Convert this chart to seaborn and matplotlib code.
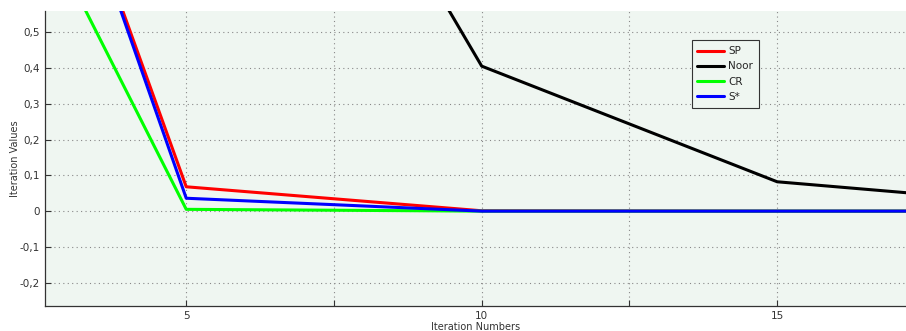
import pandas as pd
import numpy as np
import matplotlib
matplotlib.use("Agg")
import matplotlib.pyplot as plt
import seaborn as sns

# iteration numbers and values per method
iterations = [0, 5, 10, 15, 20]
sp_vals = [2.355, 0.068, 0.001, 0.0, 0.0]
noor_vals = [3.2, 1.81, 0.405, 0.082, 0.012]
cr_vals = [1.635, 0.005, 0.0, 0.0, 0.0]
s_star_vals = [2.40, 0.036, 0.0, 0.0, 0.0]

methods = ["SP", "Noor", "CR", "S*"]
colors = {"SP": "#ff0000", "Noor": "#000000", "CR": "#00ff00", "S*": "#0000ff"}

df = pd.DataFrame({
    "Iteration Numbers": iterations * 4,
    "Iteration Values": sp_vals + noor_vals + cr_vals + s_star_vals,
    "method": [m for m in methods for _ in iterations],
})

sns.set_style("ticks")
plt.rcParams["font.family"] = ["DejaVu Sans"]

fig = plt.figure(figsize=(9.06, 3.31), dpi=100)
ax = fig.add_axes([45 / 906, 25 / 331, 861 / 906, 295 / 331])
ax.set_facecolor("#eff6f1")

sns.lineplot(data=df, x="Iteration Numbers", y="Iteration Values", hue="method",
             hue_order=methods, palette=colors, linewidth=2.2, ax=ax, sort=False)

ax.set_xlim(2.61, 17.18)
ax.set_ylim(-0.265, 0.559)
ax.set_xticks([5, 7.5, 10, 12.5, 15])
ax.set_xticklabels(["5", "", "10", "", "15"])
yt = [-0.2, -0.1, 0, 0.1, 0.2, 0.3, 0.4, 0.5]
ax.set_yticks(yt)
ax.set_yticklabels([("%g" % v).replace(".", ",") for v in yt])
ax.tick_params(direction="in", length=4, labelsize=7.5, colors="#333333", width=0.8)

ax.grid(True, linestyle=(0, (1, 3)), color="#888888", linewidth=0.8)
for s in ["top", "right"]:
    ax.spines[s].set_visible(False)
for s in ["left", "bottom"]:
    ax.spines[s].set_color("#333333")
    ax.spines[s].set_linewidth(0.9)

ax.set_xlabel("Iteration Numbers", fontsize=7, color="#333333", labelpad=1)
ax.set_ylabel("Iteration Values", fontsize=7, color="#333333", labelpad=0)

leg = ax.legend(loc="upper left", bbox_to_anchor=(0.751, 0.9), fontsize=7.5,
                frameon=True, fancybox=False, handlelength=2.6, handletextpad=0.35,
                labelspacing=0.5, borderpad=0.55, borderaxespad=0)
leg.get_frame().set_edgecolor("#333333")
leg.get_frame().set_facecolor("#eff6f1")
leg.get_frame().set_linewidth(0.8)
leg.get_frame().set_alpha(1)

fig.savefig("out.png", dpi=100)
